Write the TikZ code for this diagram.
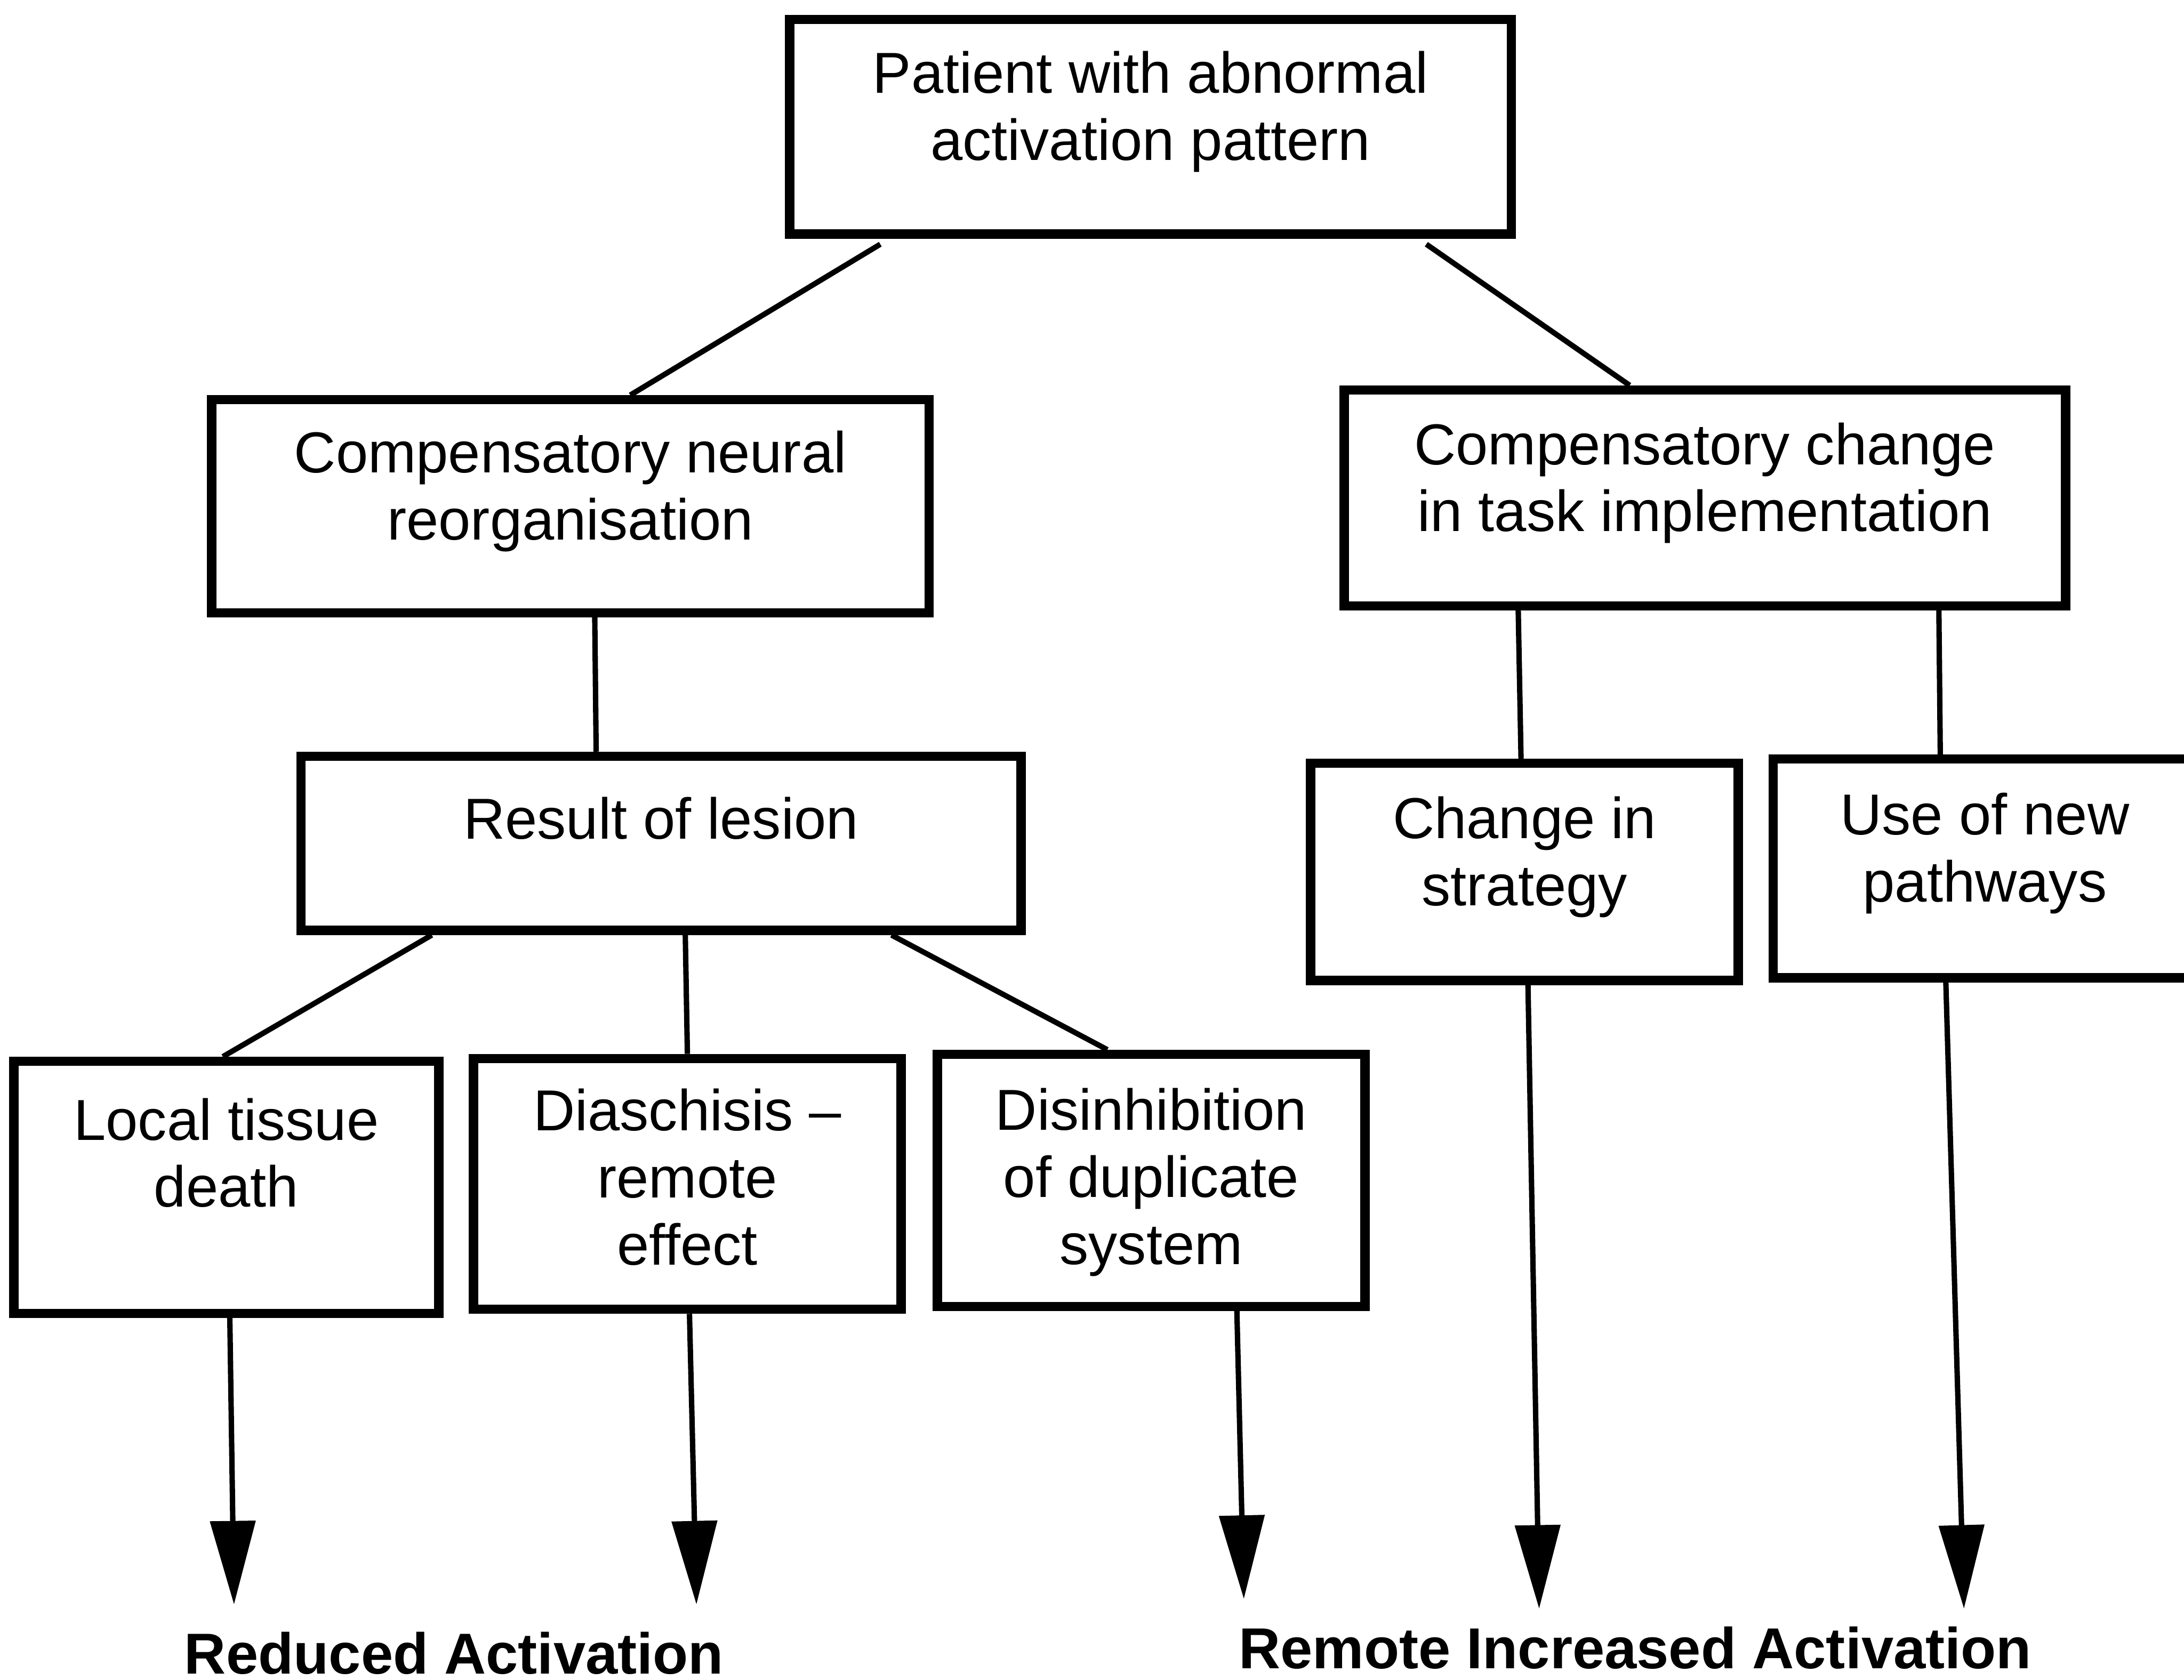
\documentclass[tikz,border=0pt]{standalone}
\usepackage{fontspec}
\setmainfont{Liberation Sans}
\usepackage{tikz}
\usetikzlibrary{arrows.meta,positioning}

\begin{document}
\begin{tikzpicture}[
    box/.style={draw, line width=1.9pt, align=center, inner sep=0pt, text depth=0.3cm,
                font=\fontsize{11.8}{13.7}\selectfont},
    conn/.style={line width=1.1pt},
    outc/.style={conn, -{Triangle[length=0.6cm, width=0.32cm]}},
    res/.style={font=\bfseries\fontsize{11.8}{13.7}\selectfont}
]
\useasboundingbox (0,0) rectangle (15.68,-12.06);

% Row 0: patient
\node[box, minimum width=5.18cm, minimum height=1.54cm] (patient) at (8.26,-0.91)
    {Patient with abnormal\\activation pattern};

% Row 1: two kinds of compensation
\node[box, minimum width=5.15cm, minimum height=1.53cm] (neural) at (4.095,-3.635)
    {Compensatory neural\\reorganisation};
\node[box, minimum width=5.18cm, minimum height=1.55cm] (task) at (12.24,-3.575)
    {Compensatory change\\in task implementation};

% Row 2
\node[box, minimum width=5.17cm, minimum height=1.25cm, text depth=0.36cm] (lesion) at (4.745,-6.055)
    {Result of lesion};
\node[box, minimum width=3.07cm, minimum height=1.56cm] (strategy) at (10.945,-6.26)
    {Change in\\strategy};
\node[box, minimum width=3.04cm, minimum height=1.57cm] (pathways) at (14.25,-6.235)
    {Use of new\\pathways};

% Row 3: lesion effects
\node[box, minimum width=3.05cm, minimum height=1.81cm, text depth=0.5cm] (local) at (1.625,-8.525)
    {Local tissue\\death};
\node[box, minimum width=3.07cm, minimum height=1.80cm, text depth=0.1cm] (diaschisis) at (4.935,-8.5)
    {Diaschisis --\\remote\\effect};
\node[box, minimum width=3.07cm, minimum height=1.81cm, text depth=0.06cm] (disinhib) at (8.265,-8.475)
    {Disinhibition\\of duplicate\\system};

% Outcomes
\node[res] (reduced) at (3.26,-11.87) {Reduced Activation};
\node[res] (remote) at (11.74,-11.83) {Remote Increased Activation};

\coordinate (tipLocal) at (1.68,-11.52);
\coordinate (tipDiasch) at (5.00,-11.52);
\coordinate (tipDisinh) at (8.93,-11.48);
\coordinate (tipStrat) at (11.05,-11.55);
\coordinate (tipPath) at (14.10,-11.55);

% === Tree lines ===
\draw[conn] ([xshift=-1.94cm, yshift=-0.04cm]patient.south) -- ([xshift=0.43cm]neural.north);
\draw[conn] ([xshift=1.98cm, yshift=-0.04cm]patient.south) -- ([xshift=-0.54cm]task.north);

\draw[conn] ([xshift=0.175cm]neural.south) -- ([xshift=-0.465cm]lesion.north);

\draw[conn] ([xshift=-1.34cm]task.south) -- ([xshift=-0.025cm]strategy.north);
\draw[conn] ([xshift=1.68cm]task.south) -- ([xshift=-0.32cm]pathways.north);

\draw[conn] ([xshift=-1.645cm]lesion.south) -- ([xshift=-0.025cm]local.north);
\draw[conn] ([xshift=0.175cm]lesion.south) -- (diaschisis.north);
\draw[conn] ([xshift=1.655cm]lesion.south) -- ([xshift=-0.315cm]disinhib.north);

% === Arrows to outcomes ===
\draw[outc] ([xshift=0.025cm]local.south) -- (tipLocal);
\draw[outc] ([xshift=0.015cm]diaschisis.south) -- (tipDiasch);
\draw[outc] ([xshift=0.615cm]disinhib.south) -- (tipDisinh);
\draw[outc] ([xshift=0.025cm]strategy.south) -- (tipStrat);
\draw[outc] ([xshift=-0.28cm]pathways.south) -- (tipPath);

\end{tikzpicture}
\end{document}
